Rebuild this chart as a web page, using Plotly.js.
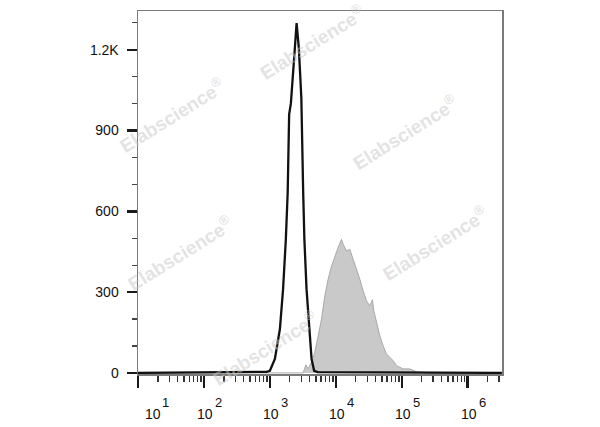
<!DOCTYPE html>
<html>
<head>
<meta charset="utf-8">
<script src="https://cdn.plot.ly/plotly-3.0.1.min.js"></script>
<style>html,body{margin:0;padding:0;background:#fff}#chart{width:600px;height:427px}</style>
</head>
<body>
<div id="chart"></div>
<script>
// Black (control) histogram: fluorescence intensity vs count
const controlX = [10, 891, 1000, 1191, 1419, 1585, 1746, 1862, 1959, 2080, 2393, 2541, 2748, 3000, 3200, 3335, 3597, 3936, 4285, 4688, 5333, 3300000];
const controlY = [0, 4, 8, 52, 163, 311, 496, 670, 960, 1000, 1207, 1299, 1207, 1020, 670, 496, 311, 163, 52, 8, 3, 0];

// Grey (stained) histogram
const stainedX = [10, 3200, 3510, 3800, 4290, 4810, 5400, 6070, 6810, 7640, 8610, 9660, 10840, 12190, 12910, 14520, 16290, 18280, 20610, 23120, 25940, 29170, 32730, 35970, 37670, 41400, 46450, 52120, 58610, 65770, 73790, 83180, 93330, 104700, 131800, 166000, 234400, 3300000];
const stainedY = [0, 0, 30, 15, 40, 77, 138, 200, 286, 348, 397, 434, 466, 496, 478, 453, 459, 422, 385, 348, 305, 268, 249, 272, 231, 188, 138, 101, 70, 58, 46, 27, 21, 15, 15, 5, 0, 0];

// Axis ticks
const yTickVals = [0, 300, 600, 900, 1200];
const yTickText = ['0', '300', '600', '900', '1.2K'];
const xDecades = [1, 2, 3, 4, 5, 6];
const watermark = 'Elabscience<sup>®</sup>';

const xMajor = xDecades.map(d => Math.pow(10, d));
const xMinor = [];
for (let d = 1; d <= 6; d++) for (let m = 2; m <= 9; m++) {
  const v = m * Math.pow(10, d);
  if (Math.log10(v) <= 6.52) xMinor.push(v);
}

const traces = [
  {x: stainedX, y: stainedY, type: 'scatter', mode: 'lines', fill: 'tozeroy',
   fillcolor: '#c9c9c9', line: {color: '#a9a9a9', width: 1}, hoverinfo: 'skip'},
  {x: controlX, y: controlY, type: 'scatter', mode: 'lines',
   line: {color: '#111111', width: 2.3}, hoverinfo: 'skip'}
];

const annotations = [];
const font = 'Arial, "Liberation Sans", sans-serif';
xDecades.forEach((d, i) => {
  const baseShift = i === 0 ? 15 : 1;
  const expShift = i === 0 ? 27 : 15;
  annotations.push({x: d, y: -0.109, xref: 'x', yref: 'paper', text: '10', showarrow: false,
    xanchor: 'center', yanchor: 'middle', xshift: baseShift, font: {family: font, size: 14, color: '#111'}});
  annotations.push({x: d, y: -0.079, xref: 'x', yref: 'paper', text: String(d), showarrow: false,
    xanchor: 'center', yanchor: 'middle', xshift: expShift, font: {family: font, size: 13, color: '#111'}});
});
const wm = [[0.478, 0.915], [0.093, 0.713], [0.734, 0.667], [0.115, 0.333], [0.816, 0.361], [0.349, 0.072]];
wm.forEach(p => annotations.push({x: p[0], y: p[1], xref: 'paper', yref: 'paper', text: watermark,
  showarrow: false, textangle: -32, xanchor: 'center', yanchor: 'middle',
  font: {family: font, size: 19, color: 'rgba(200,200,200,0.5)', weight: 'bold'}}));

const layout = {
  width: 600, height: 427,
  margin: {l: 138, r: 98, t: 11, b: 53, pad: 0},
  paper_bgcolor: '#ffffff', plot_bgcolor: '#ffffff',
  showlegend: false,
  xaxis: {type: 'log', range: [1, 6.52], showgrid: false, zeroline: false,
    showline: true, mirror: true, linecolor: '#7a7a7a', linewidth: 1.5,
    tickmode: 'array', tickvals: xMajor, showticklabels: false,
    ticks: 'outside', ticklen: 12, tickwidth: 2.5, tickcolor: '#1a1a1a',
    minor: {tickmode: 'array', tickvals: xMinor, ticks: 'outside', ticklen: 6, tickwidth: 1.5, tickcolor: '#333', showgrid: false}},
  yaxis: {range: [-4, 1344], showgrid: false, zeroline: false,
    showline: true, mirror: true, linecolor: '#7a7a7a', linewidth: 1.5,
    tickmode: 'array', tickvals: yTickVals, ticktext: yTickText,
    ticks: 'outside', ticklen: 10, tickwidth: 2.5, tickcolor: '#1a1a1a',
    ticklabelstandoff: 5,
    tickfont: {family: font, size: 14, color: '#111'},
    minor: {dtick: 100, tick0: 0, ticks: 'outside', ticklen: 5, tickwidth: 1.2, tickcolor: '#444', showgrid: false}},
  annotations: annotations
};

Plotly.newPlot('chart', traces, layout, {staticPlot: true, displayModeBar: false});
</script>
</body>
</html>
